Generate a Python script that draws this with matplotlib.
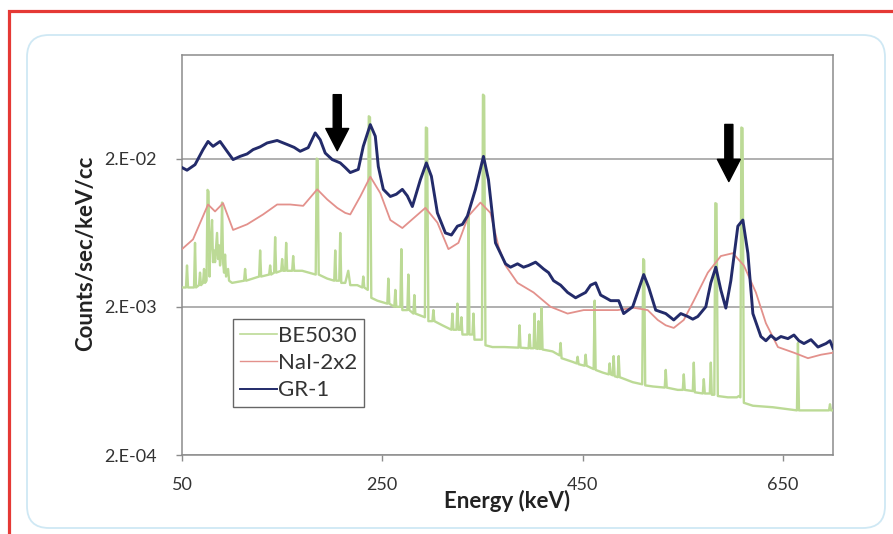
import matplotlib
matplotlib.use("Agg")
import matplotlib.pyplot as plt
from matplotlib.patches import Rectangle, FancyBboxPatch, FancyArrowPatch
from matplotlib.ticker import NullLocator

plt.rcParams['font.family'] = ['Lato', 'DejaVu Sans']

# ---------------- data ----------------
series_names = ["BE5030", "NaI-2x2", "GR-1"]

be_energy = [50,
             54, 55, 56, 62, 63, 64, 67, 68, 69, 71, 72, 73, 74.5, 75.5, 76.5, 77.5,
             78, 79, 80, 81, 82, 83, 84, 85, 86, 87, 88, 89, 90, 91,
             92, 93, 94, 96, 97, 100,
             112, 113, 114, 127, 128, 129, 137, 138, 139, 142, 143, 144,
             149, 150, 151, 153, 154, 155, 160, 161, 162, 170,
             183.5, 184.5, 185.5, 186.5, 195, 202, 203, 204, 207, 208, 209,
             213, 216, 218, 225, 230, 231, 232, 235.5, 236.5, 237.7, 239, 245,
             255, 256, 257, 262, 263, 264, 268, 269, 270, 275, 276, 277,
             281, 282, 283, 292.5, 293.5, 294.7, 296, 300, 301, 302, 310,
             319, 320, 321, 324, 325, 326, 328, 329, 330, 335, 336, 337,
             340, 341, 342, 349.5, 350.5, 351.7, 353, 360, 372,
             386, 387, 388, 396, 397, 398, 401, 402, 403, 405, 406, 407,
             408, 409, 410, 420, 427, 428, 429, 440, 444, 445, 446,
             452, 453, 454, 461, 462, 463, 470, 476, 477, 478,
             480, 481, 482, 485, 486, 487, 500, 509.5, 510.5, 511.5, 512.5, 520,
             532, 533, 534, 545, 550, 551, 552, 560, 561, 562,
             570, 571, 572, 577, 578, 579, 581.5, 582.5, 583.7, 585, 595, 604, 606,
             607.5, 608.5, 609.7, 611, 620, 640, 664, 665, 666, 680, 696, 697, 698, 700]
be_counts = [0.0027,
             0.0027, 0.0038, 0.0027, 0.0027, 0.0054, 0.0027, 0.0028, 0.0034, 0.0028,
             0.0029, 0.0036, 0.0029, 0.0030, 0.0123, 0.0120, 0.0032,
             0.0045, 0.0058, 0.0077, 0.0040, 0.0048, 0.0040, 0.0050, 0.0063, 0.0042,
             0.0052, 0.0038, 0.0046, 0.0101, 0.0040,
             0.0034, 0.0045, 0.0032, 0.0036, 0.0030, 0.0029,
             0.0030, 0.0036, 0.0030, 0.0032, 0.0048, 0.0032, 0.0033, 0.0038, 0.0033,
             0.0034, 0.0059, 0.0034,
             0.0035, 0.0042, 0.0035, 0.0035, 0.0054, 0.0035, 0.0035, 0.0044, 0.0035, 0.0035,
             0.0033, 0.0200, 0.0198, 0.0033, 0.0031, 0.0030, 0.0048, 0.0030, 0.0030, 0.0063, 0.0029,
             0.0029, 0.0035, 0.0028, 0.0028, 0.0027, 0.0032, 0.0027, 0.0026, 0.0386, 0.0380, 0.0023, 0.0022,
             0.0021, 0.0031, 0.0021, 0.0020, 0.0026, 0.0020, 0.0020, 0.0049, 0.0019,
             0.0019, 0.0033, 0.0019,
             0.0018, 0.0024, 0.0018, 0.0017, 0.0324, 0.0320, 0.0016, 0.0016, 0.0019, 0.0016, 0.0015,
             0.0014, 0.0018, 0.0014, 0.0014, 0.0021, 0.0014, 0.0014, 0.0017, 0.0013,
             0.0013, 0.0086, 0.0013,
             0.0013, 0.0018, 0.0012, 0.0012, 0.054, 0.053, 0.0011, 0.00107, 0.00107,
             0.00106, 0.0015, 0.00106, 0.00105, 0.0013, 0.00105, 0.00105, 0.0018, 0.00105,
             0.00104, 0.0016, 0.00104,
             0.00104, 0.00197, 0.00103, 0.0010, 0.00094, 0.00114, 0.0009, 0.00085,
             0.00083, 0.00092, 0.00082,
             0.0008, 0.00095, 0.0008, 0.00076, 0.0022, 0.00075, 0.00072, 0.0007, 0.00083, 0.0007,
             0.00069, 0.00093, 0.00068, 0.00067, 0.00093, 0.00067, 0.00062,
             0.0006, 0.0042, 0.0041, 0.00059, 0.00058,
             0.00057, 0.00075, 0.00057, 0.00055, 0.00055, 0.0007, 0.00055,
             0.00054, 0.00084, 0.00053,
             0.00052, 0.00065, 0.00052, 0.00052, 0.00084, 0.00051, 0.00051, 0.0100, 0.0099, 0.0005,
             0.00049, 0.00049, 0.0005,
             0.00049, 0.0324, 0.0320, 0.00045, 0.00043, 0.00042, 0.0004, 0.00114, 0.0004, 0.0004,
             0.0004, 0.00044, 0.0004, 0.0004]

nai_energy = [50, 61, 76, 83, 91, 101, 115, 131, 145, 158, 171, 185, 195, 205,
              213, 218, 228, 238, 248, 258, 270, 281, 293, 305, 316, 326,
              336, 348, 358, 366, 373, 385, 401, 418, 435, 451, 468, 485,
              501, 515, 525, 533, 541, 551, 561, 575, 588, 600, 611, 623,
              633, 645, 661, 675, 688, 700]
nai_counts = [0.0049, 0.0057, 0.0098, 0.0088, 0.0100, 0.0066, 0.0072, 0.0084,
              0.0098, 0.0098, 0.0096, 0.0124, 0.0106, 0.0093, 0.0086, 0.0084,
              0.0111, 0.0151, 0.0117, 0.0077, 0.0068, 0.0079, 0.0093, 0.0074,
              0.0049, 0.0054, 0.0082, 0.0101, 0.0086, 0.0051, 0.0038, 0.0029,
              0.0025, 0.0020, 0.0018, 0.0019, 0.0019, 0.0019, 0.00197, 0.0019,
              0.00163, 0.0015, 0.00144, 0.00163, 0.0022, 0.0034, 0.0044, 0.0046,
              0.0038, 0.0025, 0.00155, 0.00107, 0.00098, 0.0009, 0.00095, 0.00098]

gr_energy = [50, 55, 63, 71, 76, 81, 88, 95, 101, 108, 115, 121, 128, 135, 145, 155,
             162, 168, 176, 183, 188, 193, 200, 208, 213, 218, 226, 231, 238,
             243, 246, 251, 258, 264, 270, 275, 280, 288, 294, 299, 305, 313, 319, 325,
             330, 335, 343, 351, 356, 363, 373, 378, 385, 391, 396, 403, 407, 411, 416,
             421, 428, 435, 443, 448, 453, 458, 463, 468, 473, 478, 486, 491, 500, 511,
             516, 523, 533, 541, 548, 555, 560, 565, 573, 578, 583, 588, 593, 598, 605,
             610, 615, 620, 628, 633, 638, 643, 648, 655, 661, 666, 671, 678, 685, 689,
             693, 697, 700]
gr_counts = [0.0174, 0.0167, 0.0182, 0.0230, 0.0261, 0.0242, 0.0261, 0.0224,
             0.0197, 0.0207, 0.0215, 0.0230, 0.0240, 0.0255, 0.0265, 0.0249,
             0.0238, 0.0224, 0.0237,
             0.0298, 0.0268, 0.0218, 0.0197, 0.0187, 0.0174, 0.0161, 0.0169,
             0.0242, 0.0339, 0.0283, 0.0177, 0.0124, 0.0111, 0.0115, 0.0124, 0.0112, 0.0095,
             0.0144, 0.0187, 0.0152, 0.0086, 0.0063, 0.0061, 0.0070, 0.0072, 0.0082, 0.0124,
             0.0207, 0.0144, 0.0054, 0.0039, 0.0037, 0.0039, 0.0037, 0.0038, 0.0040,
             0.0038, 0.0036, 0.0034, 0.0030, 0.0028, 0.0025, 0.0023, 0.0024, 0.0025,
             0.0028, 0.0029, 0.0024, 0.0023, 0.0022, 0.0022,
             0.0018, 0.0020, 0.0033, 0.0027, 0.0019, 0.0018, 0.00163, 0.0018, 0.00172,
             0.00165, 0.00172, 0.0020, 0.0029, 0.0037, 0.0026, 0.00196, 0.0030, 0.0070,
             0.0077, 0.0046, 0.0018, 0.00126, 0.00118, 0.00128, 0.00120, 0.00126,
             0.00122, 0.00129, 0.00118, 0.00113, 0.00120, 0.00107, 0.00110, 0.00113,
             0.00118, 0.00105]

x_ticks = [50, 250, 450, 650]
y_ticks = [2e-4, 2e-3, 2e-2]
y_tick_labels = ["2.E-04", "2.E-03", "2.E-02"]
arrow_energy = [205, 596]
arrow_top = [0.054, 0.034]
arrow_tip = [0.0226, 0.014]

# ---------------- figure ----------------
W, H = 893, 534
fig = plt.figure(figsize=(W / 100, H / 100), dpi=100)

# red outer frame (only top and left visible)
fig.patches.append(Rectangle((9 / W, -0.2), 1.5, 1 - 11 / H + 0.2,
                             transform=fig.transFigure, fill=False,
                             edgecolor='#e53935', lw=2.3, zorder=-20))
# light blue rounded panel
fig.patches.append(FancyBboxPatch((0.27, 0.06), 8.58, 4.93,
                                  boxstyle="round,pad=0,rounding_size=0.22",
                                  transform=fig.dpi_scale_trans,
                                  facecolor='white', edgecolor='#cfe8f4', lw=1.3,
                                  zorder=-10))

ax = fig.add_axes([182 / W, 1 - 455 / H, 651 / W, 400 / H])
ax.set_facecolor('white')

colors = ['#bcda96', '#e3918c', '#232b6a']
ax.plot(be_energy, be_counts, color=colors[0], lw=1.7, label=series_names[0], zorder=3)
ax.plot(nai_energy, nai_counts, color=colors[1], lw=1.3, label=series_names[1], zorder=4)
ax.plot(gr_energy, gr_counts, color=colors[2], lw=2.1, label=series_names[2], zorder=5)

ax.set_yscale('log')
ax.set_xlim(50, 700)
ax.set_ylim(2e-4, 1e-1)
ax.set_xticks(x_ticks)
ax.set_xticklabels([str(t) for t in x_ticks])
ax.set_yticks(y_ticks)
ax.set_yticklabels(y_tick_labels)
ax.yaxis.set_minor_locator(NullLocator())
ax.xaxis.set_minor_locator(NullLocator())

ax.tick_params(axis='both', direction='out', length=4.5, width=1,
               color='#8c8c8c', labelsize=13, labelcolor='#333333')
ax.tick_params(axis='x', pad=11)
ax.tick_params(axis='y', pad=13.5)

ax.grid(axis='y', color='#9a9a9a', lw=1.1)
ax.set_axisbelow(True)
for s in ax.spines.values():
    s.set_color('#8c8c8c')
    s.set_linewidth(1.1)

# arrows
for e, t, b in zip(arrow_energy, arrow_top, arrow_tip):
    ax.add_patch(FancyArrowPatch((e, t), (e, b),
                                 arrowstyle='simple,head_length=16,head_width=16.5,tail_width=5.8',
                                 mutation_scale=1, color='black', shrinkA=0, shrinkB=0,
                                 zorder=6))

# legend
leg = ax.legend(loc='upper left', bbox_to_anchor=(0.079, 0.34), borderaxespad=0,
                fancybox=False, frameon=True, edgecolor='#404040', fontsize=16,
                handlelength=1.65, handletextpad=0.05, labelspacing=0.33,
                borderpad=0.3)
leg.get_frame().set_linewidth(1.0)
for line, lw in zip(leg.get_lines(), [1.2, 1.0, 1.4]):
    line.set_linewidth(lw)
for txt in leg.get_texts():
    txt.set_color('#333333')

# axis titles
fig.text(86 / W, 1 - 253.5 / H, "Counts/sec/keV/cc", rotation=90, ha='center',
         va='center', fontsize=16, fontweight='bold', color='#222222')
fig.text(507 / W, 1 - 508 / H, "Energy (keV)", ha='center', va='baseline',
         fontsize=16, fontweight='bold', color='#222222')

fig.savefig("out.png", dpi=100)
